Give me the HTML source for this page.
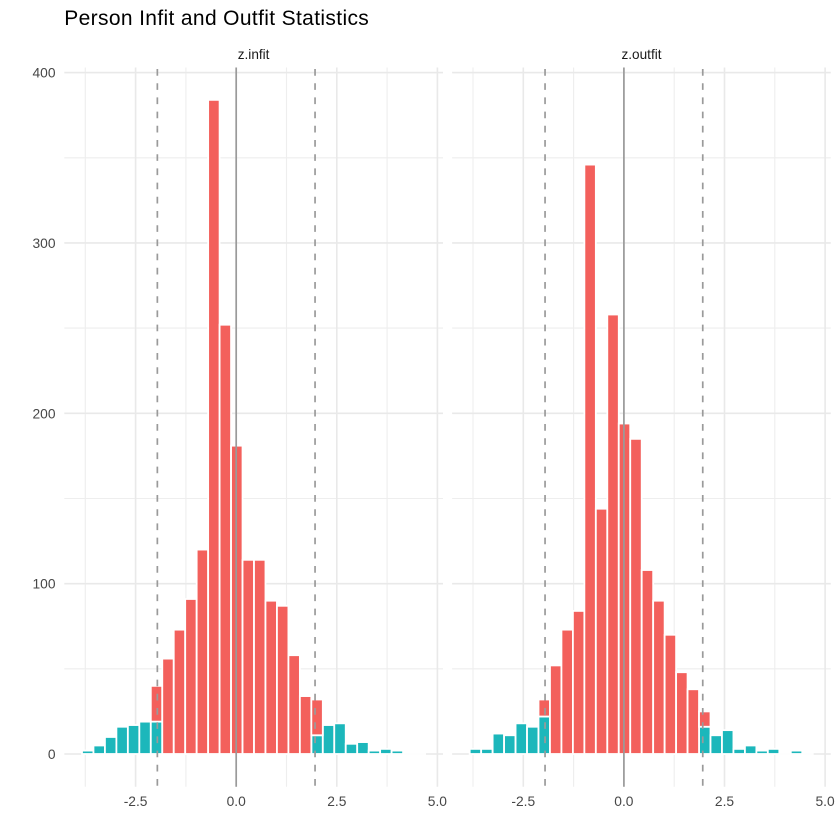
<!DOCTYPE html>
<html>
<head>
<meta charset="utf-8">
<style>
  html,body{margin:0;padding:0;background:#fff;}
  body{width:840px;height:840px;overflow:hidden;}
  svg{display:block;}
  text{font-family:"Liberation Sans",Arial,sans-serif;}
</style>
</head>
<body>
<svg width="840" height="840" viewBox="0 0 840 840" xmlns="http://www.w3.org/2000/svg">
  <rect x="0" y="0" width="840" height="840" fill="#ffffff"/>

  <!-- Title -->
  <text x="64.3" y="25" font-size="21" letter-spacing="0.35" fill="#000000">Person Infit and Outfit Statistics</text>

  <!-- Strip labels -->
  <text x="253.6" y="59" font-size="13.6" text-anchor="middle" fill="#1A1A1A">z.infit</text>
  <text x="641.5" y="59" font-size="13.6" text-anchor="middle" fill="#1A1A1A">z.outfit</text>

  <!-- ===== LEFT PANEL GRID ===== -->
  <g stroke="#EEEEEE" stroke-width="1.1">
    <line x1="64.3" y1="668.8" x2="443" y2="668.8"/>
    <line x1="64.3" y1="498.5" x2="443" y2="498.5"/>
    <line x1="64.3" y1="328.1" x2="443" y2="328.1"/>
    <line x1="64.3" y1="157.8" x2="443" y2="157.8"/>
    <line x1="85.3" y1="67.5" x2="85.3" y2="786.7"/>
    <line x1="185.9" y1="67.5" x2="185.9" y2="786.7"/>
    <line x1="286.5" y1="67.5" x2="286.5" y2="786.7"/>
    <line x1="387.1" y1="67.5" x2="387.1" y2="786.7"/>
  </g>
  <g stroke="#E9E9E9" stroke-width="1.6">
    <line x1="64.3" y1="754" x2="443" y2="754"/>
    <line x1="64.3" y1="583.65" x2="443" y2="583.65"/>
    <line x1="64.3" y1="413.3" x2="443" y2="413.3"/>
    <line x1="64.3" y1="242.95" x2="443" y2="242.95"/>
    <line x1="64.3" y1="72.6" x2="443" y2="72.6"/>
    <line x1="135.6" y1="67.5" x2="135.6" y2="786.7"/>
    <line x1="236.2" y1="67.5" x2="236.2" y2="786.7"/>
    <line x1="336.8" y1="67.5" x2="336.8" y2="786.7"/>
    <line x1="437.4" y1="67.5" x2="437.4" y2="786.7"/>
  </g>

  <!-- ===== RIGHT PANEL GRID ===== -->
  <g stroke="#EEEEEE" stroke-width="1.1">
    <line x1="452.1" y1="668.8" x2="830.8" y2="668.8"/>
    <line x1="452.1" y1="498.5" x2="830.8" y2="498.5"/>
    <line x1="452.1" y1="328.1" x2="830.8" y2="328.1"/>
    <line x1="452.1" y1="157.8" x2="830.8" y2="157.8"/>
    <line x1="473.0" y1="67.5" x2="473.0" y2="786.7"/>
    <line x1="573.6" y1="67.5" x2="573.6" y2="786.7"/>
    <line x1="674.2" y1="67.5" x2="674.2" y2="786.7"/>
    <line x1="774.8" y1="67.5" x2="774.8" y2="786.7"/>
  </g>
  <g stroke="#E9E9E9" stroke-width="1.6">
    <line x1="452.1" y1="754" x2="830.8" y2="754"/>
    <line x1="452.1" y1="583.65" x2="830.8" y2="583.65"/>
    <line x1="452.1" y1="413.3" x2="830.8" y2="413.3"/>
    <line x1="452.1" y1="242.95" x2="830.8" y2="242.95"/>
    <line x1="452.1" y1="72.6" x2="830.8" y2="72.6"/>
    <line x1="523.3" y1="67.5" x2="523.3" y2="786.7"/>
    <line x1="623.9" y1="67.5" x2="623.9" y2="786.7"/>
    <line x1="724.5" y1="67.5" x2="724.5" y2="786.7"/>
    <line x1="825.1" y1="67.5" x2="825.1" y2="786.7"/>
  </g>

  <!-- ===== LEFT PANEL BARS ===== -->
  <g stroke="#ffffff" stroke-width="1.8">
    <g fill="#1CB7BB">
      <rect x="82.00" y="750.59" width="11.467" height="3.41"/>
      <rect x="93.47" y="745.48" width="11.467" height="8.52"/>
      <rect x="104.93" y="736.97" width="11.467" height="17.03"/>
      <rect x="116.40" y="726.74" width="11.467" height="27.26"/>
      <rect x="127.87" y="725.04" width="11.467" height="28.96"/>
      <rect x="139.34" y="721.63" width="11.467" height="32.37"/>
      <rect x="150.80" y="721.63" width="11.467" height="32.37"/>
      <rect x="311.34" y="735.26" width="11.467" height="18.74"/>
      <rect x="322.81" y="725.04" width="11.467" height="28.96"/>
      <rect x="334.27" y="723.34" width="11.467" height="30.66"/>
      <rect x="345.74" y="743.78" width="11.467" height="10.22"/>
      <rect x="357.21" y="742.08" width="11.467" height="11.92"/>
      <rect x="368.68" y="750.59" width="11.467" height="3.41"/>
      <rect x="380.14" y="748.89" width="11.467" height="5.11"/>
      <rect x="391.61" y="750.59" width="11.467" height="3.41"/>
    </g>
    <g fill="#F3605C">
      <rect x="150.80" y="685.86" width="11.467" height="35.77"/>
      <rect x="162.27" y="658.60" width="11.467" height="95.40"/>
      <rect x="173.74" y="629.64" width="11.467" height="124.36"/>
      <rect x="185.20" y="598.98" width="11.467" height="155.02"/>
      <rect x="196.67" y="549.58" width="11.467" height="204.42"/>
      <rect x="208.14" y="99.86" width="11.467" height="654.14"/>
      <rect x="219.60" y="324.72" width="11.467" height="429.28"/>
      <rect x="231.07" y="445.67" width="11.467" height="308.33"/>
      <rect x="242.54" y="559.80" width="11.467" height="194.20"/>
      <rect x="254.01" y="559.80" width="11.467" height="194.20"/>
      <rect x="265.47" y="600.69" width="11.467" height="153.31"/>
      <rect x="276.94" y="605.80" width="11.467" height="148.20"/>
      <rect x="288.41" y="655.20" width="11.467" height="98.80"/>
      <rect x="299.87" y="696.08" width="11.467" height="57.92"/>
      <rect x="311.34" y="699.49" width="11.467" height="35.77"/>
    </g>
    <line x1="403.08" y1="754" x2="426.01" y2="754"/>
  </g>

  <!-- ===== RIGHT PANEL BARS ===== -->
  <g stroke="#ffffff" stroke-width="1.8">
    <g fill="#1CB7BB">
      <rect x="469.70" y="748.89" width="11.467" height="5.11"/>
      <rect x="481.17" y="748.89" width="11.467" height="5.11"/>
      <rect x="492.63" y="733.56" width="11.467" height="20.44"/>
      <rect x="504.10" y="735.26" width="11.467" height="18.74"/>
      <rect x="515.57" y="723.34" width="11.467" height="30.66"/>
      <rect x="527.04" y="726.74" width="11.467" height="27.26"/>
      <rect x="538.50" y="716.52" width="11.467" height="37.48"/>
      <rect x="699.04" y="726.74" width="11.467" height="27.26"/>
      <rect x="710.51" y="735.26" width="11.467" height="18.74"/>
      <rect x="721.97" y="730.15" width="11.467" height="23.85"/>
      <rect x="733.44" y="748.89" width="11.467" height="5.11"/>
      <rect x="744.91" y="745.48" width="11.467" height="8.52"/>
      <rect x="756.38" y="750.59" width="11.467" height="3.41"/>
      <rect x="767.84" y="748.89" width="11.467" height="5.11"/>
      <rect x="790.78" y="750.59" width="11.467" height="3.41"/>
    </g>
    <g fill="#F3605C">
      <rect x="538.50" y="699.49" width="11.467" height="17.03"/>
      <rect x="549.97" y="665.42" width="11.467" height="88.58"/>
      <rect x="561.44" y="629.64" width="11.467" height="124.36"/>
      <rect x="572.90" y="610.91" width="11.467" height="143.09"/>
      <rect x="584.37" y="164.59" width="11.467" height="589.41"/>
      <rect x="595.84" y="508.70" width="11.467" height="245.30"/>
      <rect x="607.30" y="314.50" width="11.467" height="439.50"/>
      <rect x="618.77" y="423.52" width="11.467" height="330.48"/>
      <rect x="630.24" y="438.85" width="11.467" height="315.15"/>
      <rect x="641.71" y="570.02" width="11.467" height="183.98"/>
      <rect x="653.17" y="600.69" width="11.467" height="153.31"/>
      <rect x="664.64" y="634.76" width="11.467" height="119.24"/>
      <rect x="676.11" y="672.23" width="11.467" height="81.77"/>
      <rect x="687.57" y="689.27" width="11.467" height="64.73"/>
      <rect x="699.04" y="711.41" width="11.467" height="15.33"/>
    </g>
    <line x1="779.31" y1="754" x2="790.78" y2="754"/>
    <line x1="802.24" y1="754" x2="813.71" y2="754"/>
  </g>

  <!-- ===== Reference lines ===== -->
  <g stroke="#9A9A9A" stroke-width="1.7" fill="none">
    <line x1="236.2" y1="67.5" x2="236.2" y2="786.7"/>
    <line x1="623.9" y1="67.5" x2="623.9" y2="786.7"/>
  </g>
  <g stroke="#9A9A9A" stroke-width="1.7" fill="none" stroke-dasharray="6.7 7.5">
    <line x1="157.35" y1="69" x2="157.35" y2="786.7"/>
    <line x1="315.05" y1="69" x2="315.05" y2="786.7"/>
    <line x1="545.05" y1="69" x2="545.05" y2="786.7"/>
    <line x1="702.75" y1="69" x2="702.75" y2="786.7"/>
  </g>

  <!-- ===== Y axis labels ===== -->
  <g font-size="13.8" fill="#474747" text-anchor="end">
    <text x="55.5" y="759">0</text>
    <text x="55.5" y="588.6">100</text>
    <text x="55.5" y="418.3">200</text>
    <text x="55.5" y="247.9">300</text>
    <text x="55.5" y="77.6">400</text>
  </g>

  <!-- ===== X axis labels ===== -->
  <g font-size="13.8" fill="#474747" text-anchor="middle">
    <text x="135.6" y="805.8">-2.5</text>
    <text x="236.2" y="805.8">0.0</text>
    <text x="336.8" y="805.8">2.5</text>
    <text x="437.4" y="805.8">5.0</text>
    <text x="523.3" y="805.8">-2.5</text>
    <text x="623.9" y="805.8">0.0</text>
    <text x="724.5" y="805.8">2.5</text>
    <text x="825.1" y="805.8">5.0</text>
  </g>
</svg>
</body>
</html>
